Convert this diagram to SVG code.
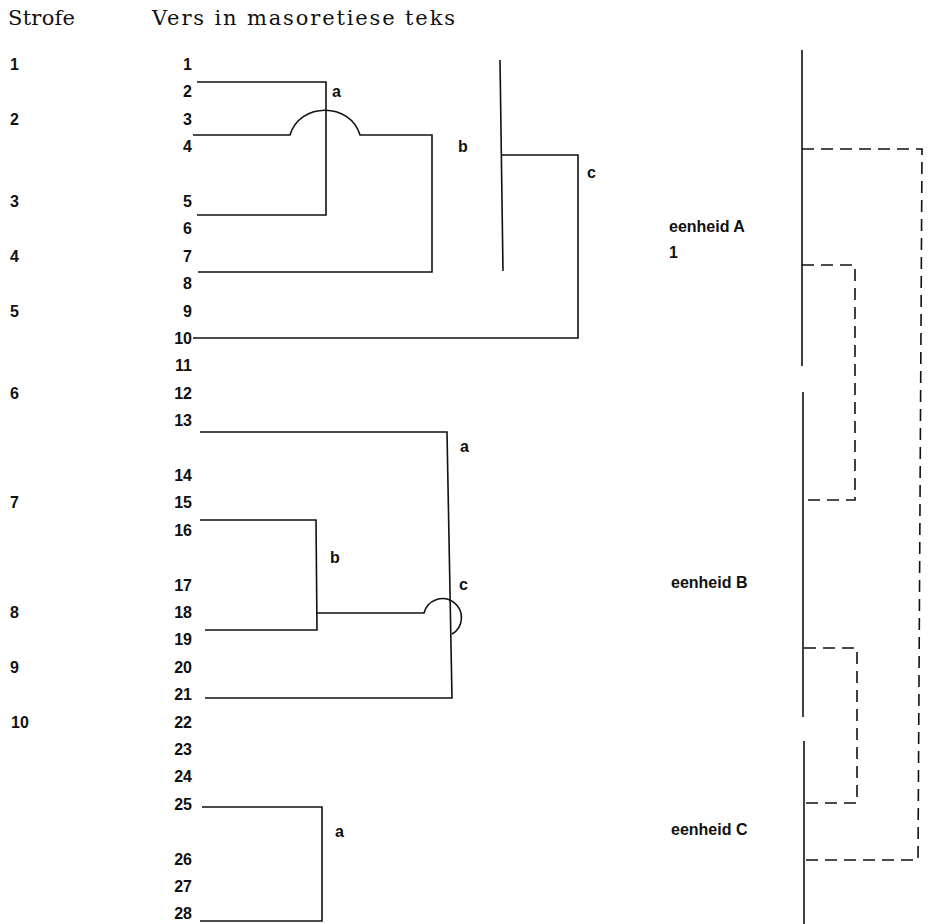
<svg xmlns="http://www.w3.org/2000/svg" width="930" height="924" viewBox="0 0 930 924">
<style>
.hd{font-family:"DejaVu Serif","Liberation Serif",serif;font-size:21px;fill:#111}
.t{font-family:"Liberation Sans",Arial,sans-serif;font-size:16px;font-weight:bold;fill:#111}
.v{font-family:"Liberation Sans",Arial,sans-serif;font-size:16px;font-weight:bold;fill:#111;text-anchor:end}
.ln{fill:none;stroke:#111;stroke-width:1.6}
.ds{fill:none;stroke:#111;stroke-width:1.6;stroke-dasharray:12 7}
</style>
<rect width="930" height="924" fill="#fff"/>
<g id="header">
<text class="hd" x="8" y="25" textLength="67" lengthAdjust="spacing">Strofe</text>
<text class="hd" x="152" y="25" textLength="303" lengthAdjust="spacing">Vers in masoretiese teks</text>
</g>
<g id="strofe">
<text class="t" x="10" y="70">1</text>
<text class="t" x="10" y="125">2</text>
<text class="t" x="10" y="207">3</text>
<text class="t" x="10" y="262">4</text>
<text class="t" x="10" y="317">5</text>
<text class="t" x="10" y="399">6</text>
<text class="t" x="10" y="508">7</text>
<text class="t" x="10" y="618">8</text>
<text class="t" x="10" y="673">9</text>
<text class="t" x="11" y="728">10</text>
</g>
<g id="verses">
<text class="v" x="192" y="70">1</text>
<text class="v" x="192" y="97">2</text>
<text class="v" x="192" y="125">3</text>
<text class="v" x="192" y="152">4</text>
<text class="v" x="192" y="207">5</text>
<text class="v" x="192" y="234">6</text>
<text class="v" x="192" y="262">7</text>
<text class="v" x="192" y="289">8</text>
<text class="v" x="192" y="317">9</text>
<text class="v" x="192" y="344">10</text>
<text class="v" x="192" y="371">11</text>
<text class="v" x="192" y="399">12</text>
<text class="v" x="192" y="426">13</text>
<text class="v" x="192" y="481">14</text>
<text class="v" x="192" y="508">15</text>
<text class="v" x="192" y="536">16</text>
<text class="v" x="192" y="591">17</text>
<text class="v" x="192" y="618">18</text>
<text class="v" x="192" y="645">19</text>
<text class="v" x="192" y="673">20</text>
<text class="v" x="192" y="700">21</text>
<text class="v" x="192" y="728">22</text>
<text class="v" x="192" y="755">23</text>
<text class="v" x="192" y="782">24</text>
<text class="v" x="192" y="810">25</text>
<text class="v" x="192" y="865">26</text>
<text class="v" x="192" y="892">27</text>
<text class="v" x="192" y="919">28</text>
</g>
<g id="connectors">
<path class="ln" d="M197,82 H326 V215 H197"/>
<path class="ln" d="M193,135 H290 C300,102 350,102 360,135 H432 V272 H198"/>
<path class="ln" d="M500,60 L503,271"/>
<path class="ln" d="M501,155 H578 V338 H193"/>
<path class="ln" d="M200,432 H447 L452,698 H205"/>
<path class="ln" d="M200,520 H316 L317,630 H205"/>
<path class="ln" d="M317,613 H424 A19,19 0 1 1 452,634"/>
<path class="ln" d="M202,807 H322 V921 H200"/>
<path class="ln" d="M802,50 V366"/>
<path class="ln" d="M803,392 V717"/>
<path class="ln" d="M804,741 V924"/>
<path class="ds" d="M802,149 H922 L918,860 H804"/>
<path class="ds" d="M802,265 H855 V500 H803"/>
<path class="ds" d="M804,648 H857 V803 H804"/>
</g>
<g id="labels">
<text class="t" x="332" y="97">a</text>
<text class="t" x="458" y="152">b</text>
<text class="t" x="587" y="178">c</text>
<text class="t" x="460" y="452">a</text>
<text class="t" x="330" y="563">b</text>
<text class="t" x="459" y="590">c</text>
<text class="t" x="335" y="837">a</text>
<text class="t" x="669" y="232">eenheid A</text>
<text class="t" x="669" y="258">1</text>
<text class="t" x="671" y="588">eenheid B</text>
<text class="t" x="671" y="835">eenheid C</text>
</g>
</svg>
